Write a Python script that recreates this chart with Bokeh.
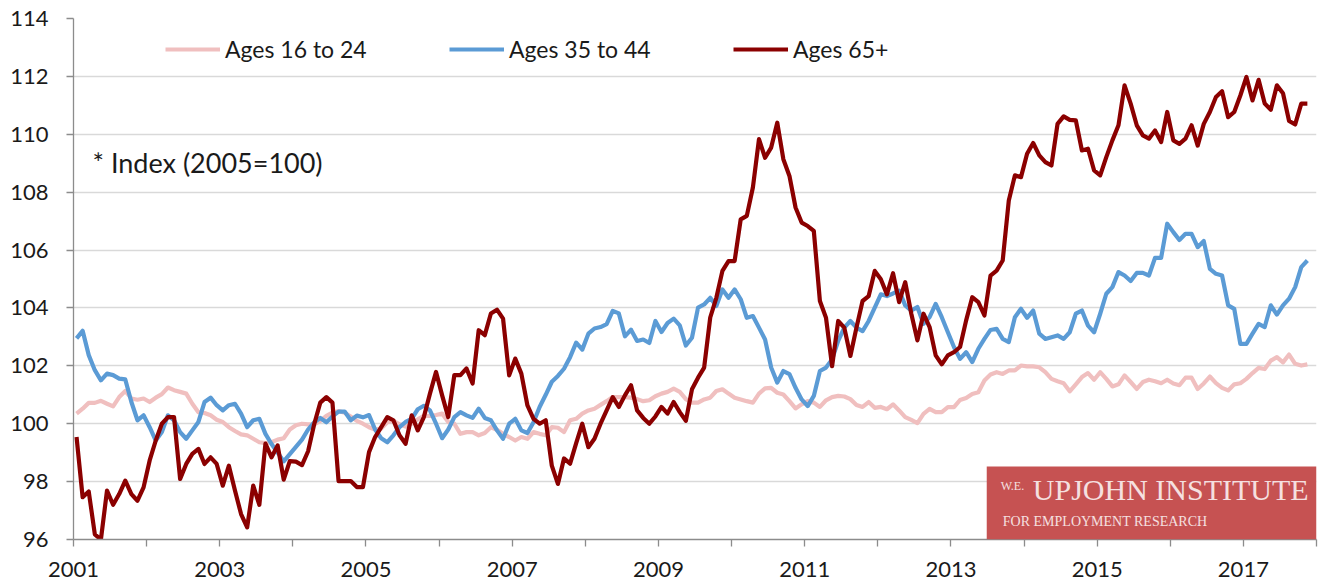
from bokeh.plotting import figure
from bokeh.models import FixedTicker, Legend, LegendItem, Label, BoxAnnotation, Range1d, ColumnDataSource
from bokeh.embed import file_html
from bokeh.resources import INLINE

# ---------------- data (monthly index, 2005=100), Jan 2001 .. Nov 2017 ----------------
start_year = 2001

ages_16_24 = [
    100.35, 100.52, 100.72, 100.72, 100.79, 100.69, 100.60, 100.92, 101.13, 100.87, 100.83, 100.87,  # 2001
    100.75, 100.90, 101.02, 101.25, 101.16, 101.10, 101.04, 100.69, 100.40, 100.37, 100.29, 100.14,  # 2002
    100.06, 99.88, 99.75, 99.63, 99.60, 99.48, 99.36, 99.33, 99.36, 99.45, 99.50, 99.80,            # 2003
    99.95, 100.00, 99.98, 99.98, 100.10, 100.27, 100.38, 100.44, 100.38, 100.25, 100.10, 100.00,     # 2004
    99.88, 99.80, 99.83, 100.05, 100.10, 99.98, 99.90, 100.00, 100.15, 100.27, 100.27, 100.30,      # 2005
    100.35, 100.06, 100.00, 99.65, 99.71, 99.71, 99.60, 99.68, 99.88, 99.79, 99.65, 99.54,          # 2006
    99.42, 99.54, 99.48, 99.71, 99.65, 99.60, 99.88, 99.86, 99.71, 100.12, 100.17, 100.35,          # 2007
    100.46, 100.52, 100.65, 100.78, 100.92, 100.92, 100.92, 100.90, 100.85, 100.78, 100.81, 100.95,  # 2008
    101.04, 101.10, 101.21, 101.10, 100.85, 100.73, 100.73, 100.84, 100.90, 101.13, 101.19, 101.04,  # 2009
    100.90, 100.84, 100.78, 100.73, 101.04, 101.22, 101.24, 101.07, 101.01, 100.78, 100.53, 100.67,  # 2010
    100.78, 100.73, 100.58, 100.81, 100.92, 100.96, 100.94, 100.85, 100.65, 100.58, 100.75, 100.55,  # 2011
    100.58, 100.50, 100.67, 100.46, 100.23, 100.13, 100.02, 100.34, 100.51, 100.40, 100.40, 100.57,  # 2012
    100.57, 100.82, 100.89, 101.03, 101.09, 101.49, 101.70, 101.78, 101.72, 101.84, 101.84, 102.01,  # 2013
    101.98, 101.98, 101.95, 101.78, 101.55, 101.47, 101.40, 101.12, 101.36, 101.61, 101.75, 101.52,  # 2014
    101.78, 101.55, 101.29, 101.36, 101.67, 101.44, 101.20, 101.44, 101.52, 101.47, 101.40, 101.52,  # 2015
    101.39, 101.33, 101.59, 101.59, 101.20, 101.39, 101.63, 101.40, 101.24, 101.15, 101.36, 101.40,  # 2016
    101.55, 101.75, 101.93, 101.89, 102.18, 102.30, 102.12, 102.39, 102.07, 102.01, 102.05,          # 2017
]

ages_35_44 = [
    102.95, 103.21, 102.37, 101.85, 101.50, 101.73, 101.68, 101.56, 101.53, 100.75, 100.12, 100.29,  # 2001
    99.88, 99.42, 99.71, 100.29, 100.12, 99.71, 99.48, 99.77, 100.06, 100.75, 100.90, 100.64,       # 2002
    100.46, 100.64, 100.69, 100.35, 99.88, 100.12, 100.17, 99.65, 99.30, 99.00, 98.70, 98.95,       # 2003
    99.20, 99.45, 99.80, 100.05, 100.20, 100.05, 100.25, 100.42, 100.42, 100.12, 100.28, 100.22,    # 2004
    100.30, 99.80, 99.50, 99.36, 99.60, 99.88, 100.06, 100.17, 100.50, 100.62, 100.46, 100.00,      # 2005
    99.50, 99.80, 100.23, 100.40, 100.29, 100.20, 100.52, 100.20, 100.12, 99.77, 99.48, 100.00,     # 2006
    100.17, 99.77, 99.68, 100.05, 100.58, 101.00, 101.45, 101.65, 101.90, 102.30, 102.80, 102.56,   # 2007
    103.11, 103.29, 103.34, 103.44, 103.90, 103.81, 103.02, 103.25, 102.86, 102.91, 102.79, 103.55,  # 2008
    103.17, 103.48, 103.63, 103.40, 102.70, 102.97, 104.01, 104.12, 104.35, 104.07, 104.64, 104.35,  # 2009
    104.64, 104.30, 103.66, 103.72, 103.32, 102.91, 101.94, 101.42, 101.82, 101.71, 101.24, 100.84,  # 2010
    100.61, 100.96, 101.82, 101.94, 102.22, 102.86, 103.32, 103.55, 103.32, 103.20, 103.55, 104.01,  # 2011
    104.47, 104.41, 104.50, 104.60, 104.09, 103.91, 104.03, 103.45, 103.68, 104.14, 103.68, 103.16,  # 2012
    102.65, 102.24, 102.47, 102.13, 102.59, 102.93, 103.24, 103.28, 102.93, 102.82, 103.68, 103.97,  # 2013
    103.66, 103.91, 103.11, 102.93, 102.99, 103.05, 102.93, 103.16, 103.80, 103.91, 103.39, 103.16,  # 2014
    103.80, 104.49, 104.72, 105.24, 105.12, 104.93, 105.21, 105.21, 105.12, 105.73, 105.73, 106.91,  # 2015
    106.62, 106.35, 106.56, 106.56, 106.10, 106.31, 105.35, 105.18, 105.12, 104.09, 103.97, 102.76,  # 2016
    102.76, 103.11, 103.45, 103.34, 104.09, 103.77, 104.09, 104.32, 104.72, 105.41, 105.64,          # 2017
]

ages_65_plus = [
    99.54, 97.46, 97.66, 96.18, 96.00, 97.69, 97.20, 97.57, 98.03, 97.57, 97.34, 97.80,             # 2001
    98.73, 99.42, 100.00, 100.23, 100.23, 98.09, 98.61, 98.96, 99.13, 98.61, 98.84, 98.61,          # 2002
    97.86, 98.55, 97.69, 96.88, 96.42, 97.86, 97.20, 99.31, 98.84, 99.25, 98.07, 98.71,             # 2003
    98.69, 98.57, 99.05, 99.98, 100.73, 100.92, 100.73, 98.02, 98.02, 98.02, 97.81, 97.81,          # 2004
    99.02, 99.54, 99.88, 100.23, 100.12, 99.60, 99.31, 100.29, 99.77, 100.23, 101.04, 101.79,       # 2005
    100.98, 100.23, 101.68, 101.68, 101.91, 101.39, 103.23, 103.06, 103.81, 103.94, 103.63, 101.67,  # 2006
    102.25, 101.73, 100.63, 100.17, 100.00, 100.12, 98.55, 97.92, 98.80, 98.62, 99.33, 100.00,      # 2007
    99.19, 99.48, 100.00, 100.46, 100.92, 100.58, 100.98, 101.33, 100.46, 100.20, 100.00, 100.25,   # 2008
    100.58, 100.35, 100.75, 100.40, 100.10, 101.19, 101.59, 101.94, 103.67, 104.35, 105.28, 105.62,  # 2009
    105.62, 107.06, 107.18, 108.16, 109.83, 109.19, 109.54, 110.40, 109.14, 108.56, 107.47, 106.95,  # 2010
    106.83, 106.66, 104.24, 103.66, 101.99, 103.55, 103.32, 102.34, 103.32, 104.24, 104.41, 105.28,  # 2011
    104.99, 104.47, 105.20, 104.20, 104.89, 103.80, 102.88, 103.80, 103.34, 102.36, 102.05, 102.36,  # 2012
    102.47, 102.65, 103.57, 104.37, 104.20, 103.74, 105.12, 105.29, 105.64, 107.71, 108.58, 108.52,  # 2013
    109.33, 109.70, 109.27, 109.04, 108.92, 110.36, 110.62, 110.50, 110.48, 109.44, 109.50, 108.75,  # 2014
    108.58, 109.21, 109.79, 110.31, 111.69, 111.06, 110.31, 109.96, 109.85, 110.13, 109.73, 110.77,  # 2015
    109.79, 109.67, 109.85, 110.31, 109.61, 110.36, 110.77, 111.29, 111.49, 110.59, 110.77, 111.34,  # 2016
    111.98, 111.17, 111.88, 111.06, 110.85, 111.69, 111.42, 110.46, 110.34, 111.06, 111.06,          # 2017
]

series_names = ["Ages 16 to 24", "Ages 35 to 44", "Ages 65+"]
series_colors = ["#F0BFBF", "#5B9BD5", "#8B0000"]

year_ticks = list(range(2001, 2019))
year_labels = {y: (str(y) if y % 2 == 1 else "") for y in year_ticks}
value_ticks = [96, 98, 100, 102, 104, 106, 108, 110, 112, 114]

# month positions (mid-month) as fractional years
months = [start_year + (m + 0.5) / 12.0 for m in range(len(ages_65_plus))]

FONT = "Lato"

p = figure(width=1318, height=587, output_backend="svg", toolbar_location=None,
           x_range=Range1d(2001, 2018), y_range=Range1d(96, 114),
           min_border_left=73, min_border_right=2, min_border_top=18, min_border_bottom=48)
p.outline_line_color = None
p.background_fill_color = "white"
p.border_fill_color = "white"

p.xgrid.visible = False
p.ygrid.grid_line_color = "#D9D9D9"
p.ygrid.grid_line_width = 1.3

p.xaxis.ticker = FixedTicker(ticks=year_ticks)
p.xaxis.major_label_overrides = year_labels
p.yaxis.ticker = FixedTicker(ticks=value_ticks)

for ax in (p.xaxis, p.yaxis):
    ax.axis_line_color = "#8C8C8C"
    ax.axis_line_width = 1.3
    ax.major_tick_line_color = "#8C8C8C"
    ax.major_tick_line_width = 1.3
    ax.major_tick_out = 7
    ax.major_tick_in = 0
    ax.minor_tick_line_color = None
    ax.major_label_text_font = FONT
    ax.major_label_text_font_size = "22px"
    ax.major_label_text_color = "#1a1a1a"
p.xaxis.major_label_standoff = 15
p.yaxis.major_label_standoff = 18

renderers = []
for vals, name, col in zip([ages_16_24, ages_35_44, ages_65_plus], series_names, series_colors):
    src = ColumnDataSource(dict(x=months, y=vals))
    r = p.line("x", "y", source=src, line_color=col, line_width=4.2, line_join="round")
    renderers.append(r)

legend = Legend(items=[LegendItem(label=n, renderers=[r]) for n, r in zip(series_names, renderers)],
                orientation="horizontal", location=(92, 476))
legend.padding = 0
legend.margin = 0
legend.spacing = 0
legend.border_line_color = None
legend.background_fill_alpha = 0
legend.glyph_width = 55
legend.glyph_height = 20
legend.label_height = 20
legend.label_width = 224
legend.label_standoff = 5
legend.label_text_font = FONT
legend.label_text_font_size = "23px"
legend.label_text_color = "#1a1a1a"
p.add_layout(legend, "center")

p.add_layout(Label(x=2001.26, y=109.03, text="* Index (2005=100)", text_font=FONT,
                   text_font_size="27px", text_color="#1a1a1a", text_baseline="middle"))

# logo box
p.add_layout(BoxAnnotation(left=2013.49, right=2018, bottom=96, top=98.52,
                           fill_color="#C65252", fill_alpha=1, line_color=None, level="overlay"))
logo_col = "#F5E0E0"
p.add_layout(Label(x=2013.68, y=97.59, text="W.E.", text_font="Liberation Serif",
                   text_font_size="12px", text_color=logo_col, level="overlay"))
p.add_layout(Label(x=2014.12, y=97.17, text="UPJOHN INSTITUTE", text_font="Liberation Serif",
                   text_font_size="30px", text_color=logo_col, level="overlay"))
p.add_layout(Label(x=2013.71, y=96.38, text="FOR EMPLOYMENT RESEARCH", text_font="Liberation Serif",
                   text_font_size="14px", text_color=logo_col, level="overlay"))

open("out.html", "w").write(file_html(p, INLINE))
